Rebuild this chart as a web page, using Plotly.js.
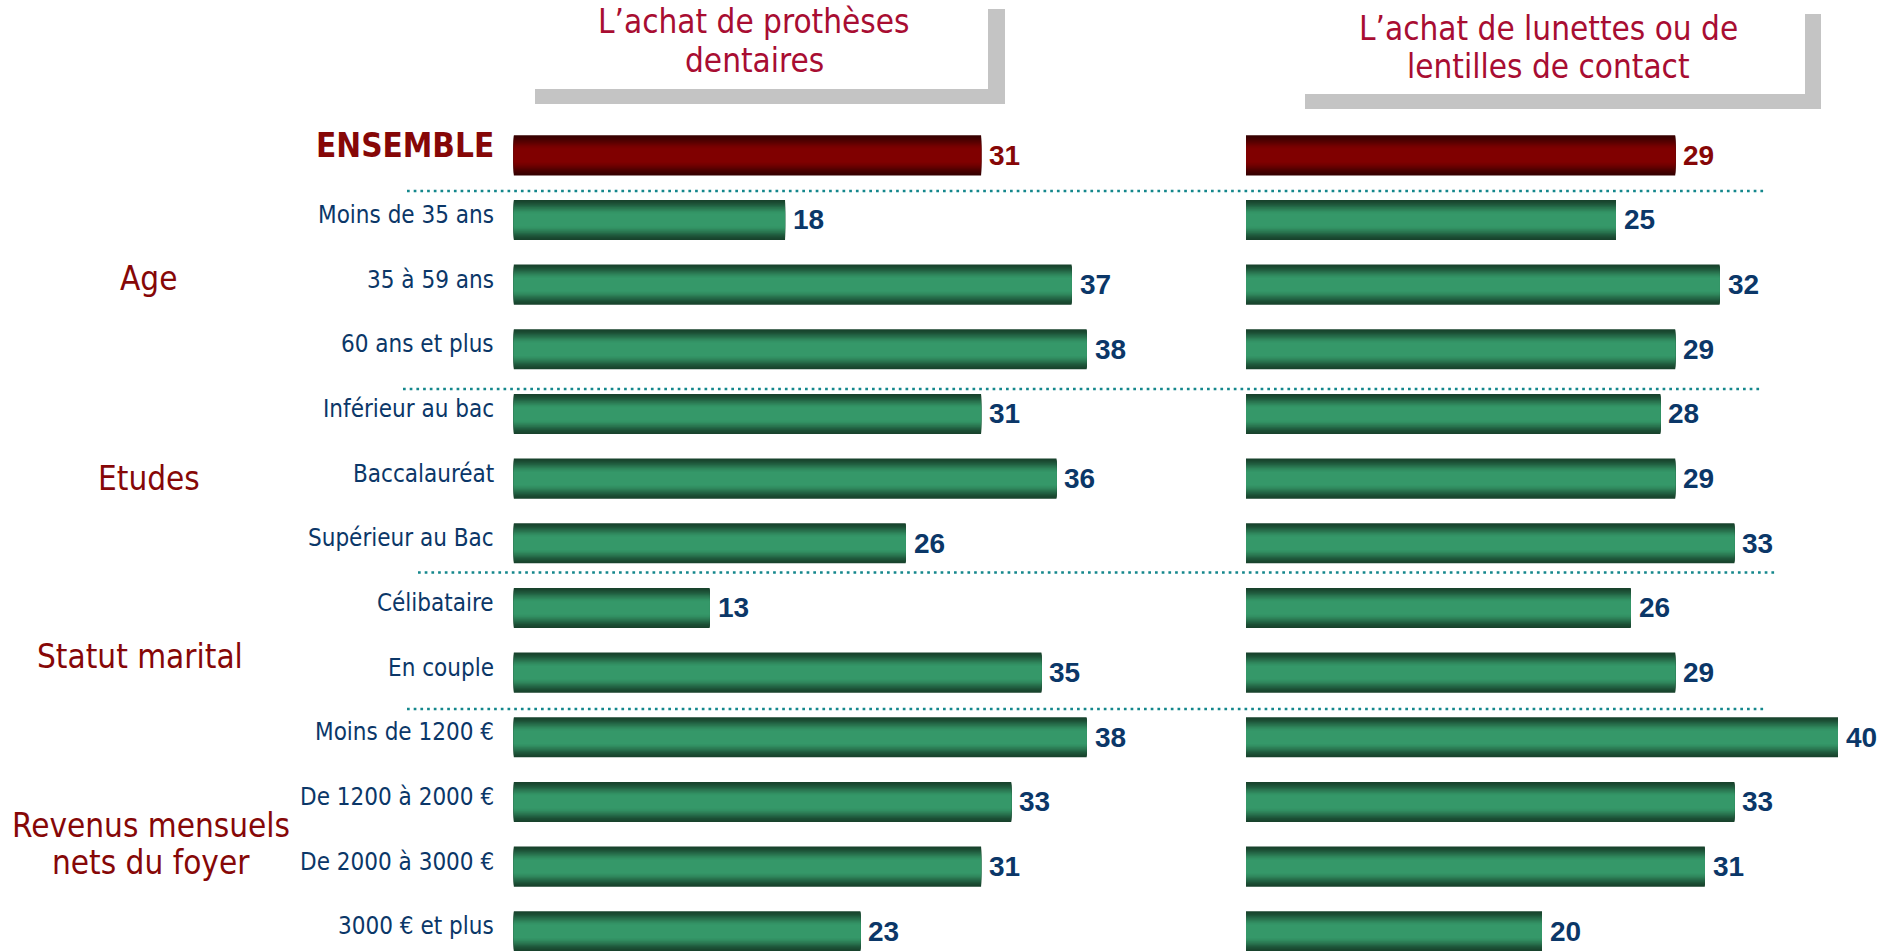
<!DOCTYPE html>
<html>
<head>
<meta charset="utf-8">
<script src="https://cdn.plot.ly/plotly-3.0.1.min.js"></script>
<style>
  html, body { margin: 0; padding: 0; background: #ffffff; }
  #chart { width: 1895px; height: 951px; }
</style>
</head>
<body>
<div id="chart"></div>
<script>
// ---------------- DATA ----------------
const categories = [
  "ENSEMBLE",
  "Moins de 35 ans", "35 à 59 ans", "60 ans et plus",
  "Inférieur au bac", "Baccalauréat", "Supérieur au Bac",
  "Célibataire", "En couple",
  "Moins de 1200 €", "De 1200 à 2000 €", "De 2000 à 3000 €", "3000 € et plus"
];
const protheses = [31, 18, 37, 38, 31, 36, 26, 13, 35, 38, 33, 31, 23];
const lunettes  = [29, 25, 32, 29, 28, 29, 33, 26, 29, 40, 33, 31, 20];
const groupLabels = ["Age", "Etudes", "Statut marital", "Revenus mensuels<br>nets du foyer"];
const panelTitles = ["L’achat de prothèses<br>dentaires", "L’achat de lunettes ou de<br>lentilles de contact"];

// ---------------- STYLE / GEOMETRY ----------------
const W = 1895, H = 951;
const px = x => x / W;
const py = y => 1 - y / H;
const LABEL_FONT = "DejaVu Sans Condensed, DejaVu Sans, Noto Sans, sans-serif";
const VALUE_FONT = "Liberation Sans, Arial, sans-serif";
const NAVY = "#0b3768";
const DARKRED = "#860707";
const TITLE_RED = "#a80d32";

const BAR_W = 0.62, LAYERS = 18;
const greenDark = [24, 66, 44], greenLight = [53, 152, 105];
const redDark = [55, 0, 0], redLight = [128, 0, 0];
function mix(a, b, t) {
  return "rgb(" + a.map((v, i) => Math.round(v + (b[i] - v) * t)).join(",") + ")";
}

const traces = [];
[[protheses, "x"], [lunettes, "x2"]].forEach(([vals, xa]) => {
  for (let k = 0; k < LAYERS; k++) {
    const d = 1 - 0.67 * k / (LAYERS - 1);          // relative half-height of this layer
    const u = Math.max(0, Math.min(1, (1 - d) / 0.67));
    const t = u * u * (3 - 2 * u) * 0.6 + u * 0.4;
    traces.push({
      type: "bar", orientation: "h",
      x: vals, y: categories,
      xaxis: xa, yaxis: "y",
      width: BAR_W * d,
      marker: {
        color: categories.map((c, i) => i === 0 ? mix(redDark, redLight, t) : mix(greenDark, greenLight, t)),
        line: { width: 0 }
      },
      hoverinfo: "skip", showlegend: false
    });
  }
});

const annotations = [];
// value labels
[[protheses, "x"], [lunettes, "x2"]].forEach(([vals, xa]) => {
  vals.forEach((v, i) => {
    annotations.push({
      x: v, y: categories[i], xref: xa, yref: "y",
      text: String(v), showarrow: false, xanchor: "left", yanchor: "middle",
      xshift: 6,
      font: { family: VALUE_FONT, size: 28, weight: "bold", color: i === 0 ? DARKRED : NAVY }
    });
  });
});
// row labels
categories.forEach((c, i) => {
  if (i === 0) {
    annotations.push({
      x: px(496), y: c, xref: "paper", yref: "y", text: c, showarrow: false,
      xanchor: "right", yanchor: "middle", yshift: 10,
      font: { family: LABEL_FONT, size: 33, weight: "bold", color: DARKRED }
    });
  } else {
    annotations.push({
      x: px(496), y: c, xref: "paper", yref: "y", text: c, showarrow: false,
      xanchor: "right", yanchor: "middle", yshift: 5,
      font: { family: LABEL_FONT, size: 24, color: NAVY }
    });
  }
});
// group labels (each line placed separately for tighter line spacing)
const groupX = [148, 149, 140, 151];
const groupY = [[1.91], [4.99], [7.75], [10.36, 10.94]];
groupLabels.forEach((g, i) => {
  g.split("<br>").forEach((line, j) => {
    annotations.push({
      x: px(groupX[i]), y: groupY[i][j], xref: "paper", yref: "y", text: line, showarrow: false,
      xanchor: "center", yanchor: "middle",
      font: { family: LABEL_FONT, size: 33, color: DARKRED }
    });
  });
});
// panel titles (each line placed separately)
const titleX = [754, 1548], titleY = [[22, 60.5], [28, 66.5]];
panelTitles.forEach((t, i) => {
  t.split("<br>").forEach((line, j) => {
    annotations.push({
      x: px(titleX[i]), y: py(titleY[i][j]), xref: "paper", yref: "paper", text: line, showarrow: false,
      xanchor: "center", yanchor: "middle",
      font: { family: LABEL_FONT, size: 33, color: TITLE_RED }
    });
  });
});

const shapes = [];
function rectPx(x0, y0, x1, y1, color) {
  shapes.push({ type: "rect", xref: "paper", yref: "paper",
    x0: px(x0), x1: px(x1), y0: py(y1), y1: py(y0),
    fillcolor: color, line: { width: 0 }, layer: "below" });
}
// title shadows
rectPx(988, 9, 1005, 104, "#c4c4c4");
rectPx(535, 89, 1005, 104, "#c4c4c4");
rectPx(1805, 14, 1821, 109, "#c4c4c4");
rectPx(1305, 94, 1821, 109, "#c4c4c4");
// dotted separators
const seps = [[407, 1767, 191], [403, 1761, 389], [418, 1775, 572.5], [407, 1765, 709]];
seps.forEach(([x0, x1, y]) => {
  shapes.push({ type: "line", xref: "paper", yref: "paper",
    x0: px(x0), x1: px(x1), y0: py(y), y1: py(y),
    line: { color: "#14878c", width: 2.7, dash: "2.7px,4px" } });
});

const layout = {
  width: W, height: H,
  margin: { l: 0, r: 0, t: 0, b: 0, pad: 0 },
  paper_bgcolor: "#ffffff", plot_bgcolor: "rgba(0,0,0,0)",
  barmode: "overlay",
  showlegend: false,
  xaxis: { domain: [px(513.6), px(1200)], range: [0, (1200 - 513.6) / 15.08], visible: false, fixedrange: true },
  xaxis2: { domain: [px(1246), 1], range: [0, (1895 - 1246) / 14.8], visible: false, fixedrange: true, anchor: "y" },
  yaxis: { type: "category", domain: [0, 1 - 123 / 951], range: [12.305, -0.5], visible: false, fixedrange: true },
  annotations: annotations,
  shapes: shapes
};

Plotly.newPlot("chart", traces, layout, { staticPlot: true, displayModeBar: false });
</script>
</body>
</html>
